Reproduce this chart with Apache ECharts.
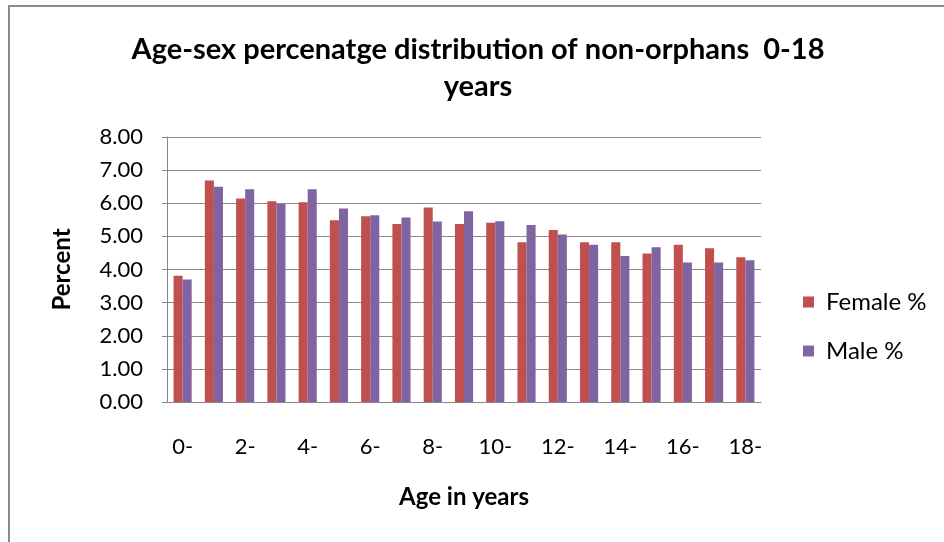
<!DOCTYPE html>
<html>
<head>
<meta charset="utf-8">
<script src="https://cdn.jsdelivr.net/npm/echarts@6/dist/echarts.min.js"></script>
<style>
  html, body { margin: 0; padding: 0; background: #fff; }
  #chart { width: 944px; height: 542px; }
</style>
</head>
<body>
<div id="chart"></div>
<script>
// Age groups (single years, every other one labelled)
const ageGroups = ['0-','1-','2-','3-','4-','5-','6-','7-','8-','9-','10-','11-','12-','13-','14-','15-','16-','17-','18-'];
// Percentage of non-orphans by age and sex
const femalePct = [3.81, 6.69, 6.14, 6.06, 6.03, 5.49, 5.61, 5.37, 5.87, 5.37, 5.41, 4.82, 5.19, 4.82, 4.82, 4.48, 4.75, 4.64, 4.37];
const malePct   = [3.70, 6.50, 6.42, 5.98, 6.42, 5.84, 5.64, 5.57, 5.45, 5.76, 5.46, 5.34, 5.06, 4.75, 4.41, 4.67, 4.21, 4.21, 4.28];
const yTicks = [0, 1, 2, 3, 4, 5, 6, 7, 8];

const FONT = 'Lato, "Open Sans", sans-serif';

const chart = echarts.init(document.getElementById('chart'), null, { renderer: 'canvas' });

chart.setOption({
  backgroundColor: '#ffffff',
  animation: false,
  title: {
    text: 'Age-sex percenatge distribution of non-orphans  0-18\nyears',
    left: 478,
    top: 31,
    padding: 0,
    textAlign: 'center',
    textStyle: {
      fontFamily: FONT,
      fontWeight: 'bold',
      fontSize: 29,
      lineHeight: 37,
      color: '#000'
    }
  },
  legend: {
    orient: 'vertical',
    left: 803,
    top: 290,
    padding: 0,
    itemWidth: 11,
    itemHeight: 11,
    itemGap: 25,
    icon: 'rect',
    textStyle: { fontFamily: FONT, fontSize: 24, color: '#000', padding: [0, 0, 0, 7] },
    data: ['Female %', 'Male %']
  },
  grid: {
    left: 167,
    right: 183,
    top: 137,
    bottom: 140
  },
  xAxis: {
    type: 'category',
    data: ageGroups,
    name: 'Age in years',
    nameLocation: 'middle',
    nameGap: 83,
    nameTextStyle: { fontFamily: FONT, fontWeight: 'bold', fontSize: 24, color: '#000' },
    axisLine: { lineStyle: { color: '#868686', width: 1 } },
    axisTick: { show: false },
    axisLabel: {
      interval: 1,
      margin: 34,
      fontFamily: FONT,
      fontSize: 22,
      color: '#000'
    }
  },
  yAxis: {
    type: 'value',
    min: yTicks[0],
    max: yTicks[yTicks.length - 1],
    interval: 1,
    name: 'Percent',
    nameLocation: 'middle',
    nameGap: 93,
    nameTextStyle: { fontFamily: FONT, fontWeight: 'bold', fontSize: 24, color: '#000' },
    axisLine: { show: true, lineStyle: { color: '#868686', width: 1 } },
    axisTick: { show: true, inside: false, length: 5, lineStyle: { color: '#868686' } },
    axisLabel: {
      margin: 24,
      fontFamily: FONT,
      fontSize: 22,
      color: '#000',
      formatter: v => v.toFixed(2)
    },
    splitLine: { lineStyle: { color: '#8c8c8c', width: 1 } }
  },
  series: [
    {
      name: 'Female %',
      type: 'bar',
      data: femalePct,
      barGap: '0%',
      barCategoryGap: '42%',
      itemStyle: { color: '#C0504D' }
    },
    {
      name: 'Male %',
      type: 'bar',
      data: malePct,
      itemStyle: { color: '#8064A2' }
    }
  ],
  graphic: [
    {
      type: 'polyline',
      shape: { points: [[9, 542], [9, 6], [944, 6]] },
      style: { stroke: '#8a8a8a', lineWidth: 2, fill: null },
      silent: true
    }
  ]
});
</script>
</body>
</html>
